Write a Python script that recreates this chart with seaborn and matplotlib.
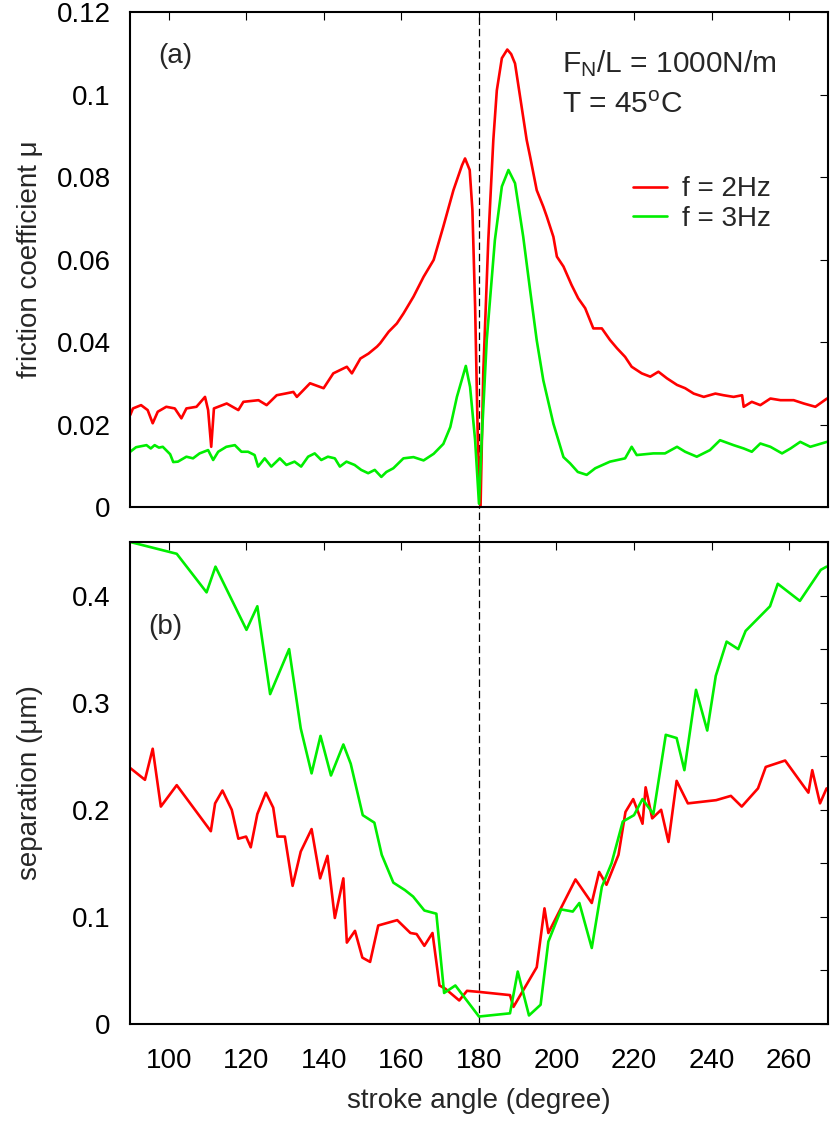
import numpy as np
import pandas as pd
import seaborn as sns
import matplotlib.pyplot as plt

# (a) friction coefficient vs stroke angle
mu_2hz_deg = [90.0, 90.7, 92.8, 94.5, 95.8, 97.1, 99.3, 101.5, 103.2, 104.5,
              107.1, 109.3, 110.1, 110.9, 111.6, 114.9, 117.9, 119.2, 123.1, 125.2,
              127.8, 130.0, 132.1, 133.0, 136.4, 139.9, 142.4, 145.9, 147.2, 149.4,
              151.5, 153.7, 154.5, 156.7, 158.8, 160.5, 163.1, 165.7, 168.3, 170.8,
              173.4, 175.6, 176.4, 177.6, 178.3, 179.0, 179.7, 180.4, 181.1, 182.4,
              183.7, 184.6, 185.9, 187.3, 188.3, 189.3, 190.6, 192.3, 193.2, 194.9,
              196.6, 197.5, 199.2, 200.1, 201.8, 203.9, 205.6, 207.4, 209.5, 211.7,
              213.8, 215.6, 217.7, 219.4, 222.0, 224.2, 226.3, 228.5, 231.1, 233.2,
              235.4, 238.0, 241.0, 243.1, 245.7, 247.9, 248.3, 250.4, 252.6, 255.2,
              257.8, 261.2, 263.8, 266.8, 269.8]
mu_2hz = [0.0223, 0.0239, 0.0247, 0.0235, 0.0203, 0.0231, 0.0243, 0.0239, 0.0215, 0.0239,
          0.0243, 0.0267, 0.0235, 0.0146, 0.0239, 0.0251, 0.0235, 0.0255, 0.0259, 0.0247,
          0.0271, 0.0275, 0.0279, 0.0267, 0.0300, 0.0288, 0.0324, 0.0340, 0.0324, 0.0360,
          0.0372, 0.0389, 0.0397, 0.0425, 0.0445, 0.0469, 0.0510, 0.0558, 0.0599, 0.0680,
          0.0768, 0.0828, 0.0845, 0.0817, 0.0720, 0.0486, 0.0162, 0.0000, 0.0324, 0.0647,
          0.0890, 0.1010, 0.1088, 0.1109, 0.1098, 0.1075, 0.0995, 0.0890, 0.0849, 0.0768,
          0.0728, 0.0704, 0.0655, 0.0607, 0.0583, 0.0538, 0.0506, 0.0482, 0.0433, 0.0433,
          0.0405, 0.0385, 0.0364, 0.0340, 0.0324, 0.0316, 0.0328, 0.0312, 0.0296, 0.0288,
          0.0275, 0.0267, 0.0275, 0.0271, 0.0267, 0.0271, 0.0243, 0.0255, 0.0247, 0.0263,
          0.0259, 0.0259, 0.0251, 0.0243, 0.0263]

mu_3hz_deg = [90.0, 91.5, 94.2, 95.3, 96.3, 97.4, 98.4, 100.3, 101.1, 102.3,
              104.5, 106.2, 107.9, 110.1, 111.4, 112.7, 114.8, 117.0, 118.7, 120.4,
              122.1, 123.0, 124.7, 126.4, 128.6, 130.3, 132.4, 134.1, 135.9, 137.6,
              139.3, 141.0, 142.8, 144.1, 145.8, 147.9, 149.6, 151.4, 153.1, 154.8,
              156.1, 157.9, 160.5, 163.1, 165.7, 168.3, 170.8, 172.6, 174.3, 176.6,
              177.7, 179.0, 180.0, 180.7, 182.0, 184.1, 185.9, 187.6, 189.3, 191.4,
              193.2, 194.9, 196.6, 199.2, 201.8, 203.5, 205.5, 207.8, 210.0, 213.8,
              217.7, 219.4, 220.7, 225.0, 228.0, 231.1, 233.2, 236.2, 239.6, 242.2,
              245.7, 248.3, 250.4, 252.6, 255.2, 258.2, 260.4, 262.9, 265.5, 269.8]
mu_3hz = [0.0134, 0.0145, 0.0150, 0.0142, 0.0150, 0.0144, 0.0146, 0.0128, 0.0109, 0.0110,
          0.0122, 0.0118, 0.0130, 0.0138, 0.0114, 0.0134, 0.0146, 0.0150, 0.0134, 0.0134,
          0.0126, 0.0098, 0.0118, 0.0098, 0.0118, 0.0102, 0.0110, 0.0098, 0.0122, 0.0130,
          0.0114, 0.0122, 0.0118, 0.0098, 0.0110, 0.0102, 0.0090, 0.0082, 0.0090, 0.0073,
          0.0085, 0.0094, 0.0118, 0.0121, 0.0113, 0.0129, 0.0153, 0.0194, 0.0267, 0.0342,
          0.0291, 0.0162, 0.0008, 0.0162, 0.0405, 0.0647, 0.0777, 0.0817, 0.0785, 0.0656,
          0.0525, 0.0404, 0.0307, 0.0202, 0.0121, 0.0106, 0.0085, 0.0078, 0.0094, 0.0110,
          0.0118, 0.0146, 0.0126, 0.0130, 0.0130, 0.0146, 0.0134, 0.0122, 0.0138, 0.0162,
          0.0150, 0.0142, 0.0134, 0.0154, 0.0146, 0.0130, 0.0142, 0.0158, 0.0146, 0.0158]

# (b) separation in micrometres
sep_2hz_deg = [90.0, 93.8, 95.8, 97.9, 102.0, 110.8, 111.9, 113.8, 116.2, 117.9,
               119.9, 121.1, 122.8, 125.0, 126.9, 128.0, 129.9, 131.9, 134.0, 136.8,
               139.0, 140.9, 142.8, 145.0, 145.9, 148.0, 149.9, 151.9, 154.0, 158.9,
               162.3, 163.9, 165.9, 168.0, 169.8, 171.3, 174.9, 176.9, 180.0, 188.0,
               188.9, 194.9, 196.9, 197.9, 204.9, 209.1, 211.0, 212.9, 216.0, 217.8,
               219.8, 222.2, 223.0, 224.7, 227.0, 228.9, 231.0, 233.9, 241.2, 245.0,
               247.8, 252.0, 254.0, 259.0, 265.0, 266.0, 268.0, 269.7]
sep_2hz = [0.239, 0.228, 0.257, 0.203, 0.223, 0.180, 0.206, 0.218, 0.200, 0.173,
           0.175, 0.165, 0.196, 0.216, 0.202, 0.175, 0.175, 0.129, 0.161, 0.182,
           0.136, 0.157, 0.099, 0.136, 0.076, 0.087, 0.062, 0.058, 0.092, 0.097,
           0.085, 0.084, 0.073, 0.085, 0.036, 0.033, 0.022, 0.031, 0.030, 0.027,
           0.016, 0.053, 0.108, 0.085, 0.135, 0.113, 0.142, 0.130, 0.158, 0.198,
           0.210, 0.187, 0.221, 0.192, 0.200, 0.170, 0.227, 0.206, 0.209, 0.213,
           0.203, 0.220, 0.240, 0.246, 0.216, 0.237, 0.206, 0.220]

sep_3hz_deg = [90.0, 102.0, 109.7, 112.0, 120.0, 122.8, 126.1, 131.0, 134.0, 136.8,
               139.1, 141.8, 145.0, 146.9, 150.0, 153.0, 154.9, 157.9, 160.9, 163.0,
               165.9, 169.0, 171.0, 173.9, 180.0, 188.0, 190.0, 192.9, 195.9, 197.9,
               201.2, 204.2, 205.9, 209.1, 211.7, 214.2, 217.1, 220.0, 222.2, 225.0,
               228.2, 231.0, 233.0, 236.0, 238.9, 241.1, 243.9, 246.9, 248.8, 255.1,
               257.1, 262.8, 268.2, 269.7]
sep_3hz = [0.450, 0.439, 0.403, 0.427, 0.368, 0.390, 0.308, 0.350, 0.276, 0.234,
           0.269, 0.232, 0.261, 0.243, 0.195, 0.188, 0.158, 0.132, 0.125, 0.119,
           0.106, 0.103, 0.029, 0.036, 0.007, 0.010, 0.049, 0.008, 0.018, 0.077,
           0.107, 0.105, 0.113, 0.071, 0.128, 0.150, 0.189, 0.195, 0.210, 0.196,
           0.270, 0.267, 0.237, 0.312, 0.274, 0.325, 0.357, 0.350, 0.367, 0.390,
           0.411, 0.395, 0.424, 0.427]

series_labels = ["f = 2Hz", "f = 3Hz"]
series_colors = ["#ff0000", "#00ee00"]
x_ticks = [100, 120, 140, 160, 180, 200, 220, 240, 260]
mu_ticks = [0, 0.02, 0.04, 0.06, 0.08, 0.10, 0.12]
mu_tick_labels = ["0", "0.02", "0.04", "0.06", "0.08", "0.1", "0.12"]
sep_ticks = [0, 0.05, 0.10, 0.15, 0.20, 0.25, 0.30, 0.35, 0.40, 0.45]
sep_tick_labels = ["0", "", "0.1", "", "0.2", "", "0.3", "", "0.4", ""]


def long_frame(deg_a, val_a, deg_b, val_b):
    a = pd.DataFrame({"angle": deg_a, "value": val_a, "freq": series_labels[0]})
    b = pd.DataFrame({"angle": deg_b, "value": val_b, "freq": series_labels[1]})
    return pd.concat([a, b], ignore_index=True)


def style_axis(ax, ticks, labels, ylim):
    ax.set_xlim(90, 270)
    ax.set_ylim(*ylim)
    ax.set_xticks(x_ticks)
    ax.set_yticks(ticks)
    ax.set_yticklabels(labels)
    ax.tick_params(direction="in", length=6, width=0.8, top=True, right=True,
                   labelsize=20, colors="black")
    ax.tick_params(axis="y", pad=14)
    ax.tick_params(axis="x", pad=17)
    for sp in ax.spines.values():
        sp.set_linewidth(1.5)
        sp.set_color("black")


sns.set_theme(style="white")
plt.rcParams["font.family"] = ["Liberation Sans", "DejaVu Sans"]
plt.rcParams["mathtext.fontset"] = "custom"
plt.rcParams["mathtext.rm"] = "Liberation Sans"
plt.rcParams["mathtext.it"] = "Liberation Sans:italic"

palette = dict(zip(series_labels, series_colors))
mu_df = long_frame(mu_2hz_deg, mu_2hz, mu_3hz_deg, mu_3hz)
sep_df = long_frame(sep_2hz_deg, sep_2hz, sep_3hz_deg, sep_3hz)

fig = plt.figure(figsize=(8.3, 11.21), dpi=100)
ax1 = fig.add_axes([0.1569, 0.5477, 0.8404, 0.4416])
ax2 = fig.add_axes([0.1569, 0.0865, 0.8404, 0.4300])

sns.lineplot(data=mu_df, x="angle", y="value", hue="freq", palette=palette,
             estimator=None, sort=False, linewidth=1.9, ax=ax1)
sns.lineplot(data=sep_df, x="angle", y="value", hue="freq", palette=palette,
             estimator=None, sort=False, linewidth=1.9, legend=False, ax=ax2)

style_axis(ax1, mu_ticks, mu_tick_labels, (0, 0.12))
style_axis(ax2, sep_ticks, sep_tick_labels, (0, 0.45))
ax1.set_xticklabels([])

# dashed line at 180 deg running through both panels
ax1.axvline(180, ymin=-35 / 495, ymax=1, clip_on=False, color="black",
            lw=0.9, ls=(0, (6, 3)), zorder=1)
ax2.axvline(180, color="black", lw=0.9, ls=(0, (6, 3)), zorder=1)

ax1.set_xlabel("")
ax1.set_ylabel("friction coefficient μ", fontsize=20)
ax2.set_ylabel("separation (μm)", fontsize=20)
ax2.set_xlabel("stroke angle (degree)", fontsize=20, labelpad=10)
ax1.yaxis.set_label_coords(-0.125, 0.5)
ax2.yaxis.set_label_coords(-0.125, 0.5)

ax1.text(97.2, 0.1093, "(a)", fontsize=20, va="center")
ax2.text(94.6, 0.3707, "(b)", fontsize=20, va="center")
ax1.text(201.3, 0.1055, r"F$_{\mathrm{N}}$/L = 1000N/m", fontsize=21.5, va="baseline")
ax1.text(201.3, 0.0954, r"T = 45$^{\mathrm{o}}$C", fontsize=21.5, va="baseline")

handles, labels = ax1.get_legend_handles_labels()
ax1.legend(handles, labels, loc="upper left", bbox_to_anchor=(0.7208, 0.668),
           frameon=False, fontsize=20, handlelength=1.22, handletextpad=0.55,
           labelspacing=0.12, borderpad=0, borderaxespad=0)

fig.savefig("out.png", dpi=100)
